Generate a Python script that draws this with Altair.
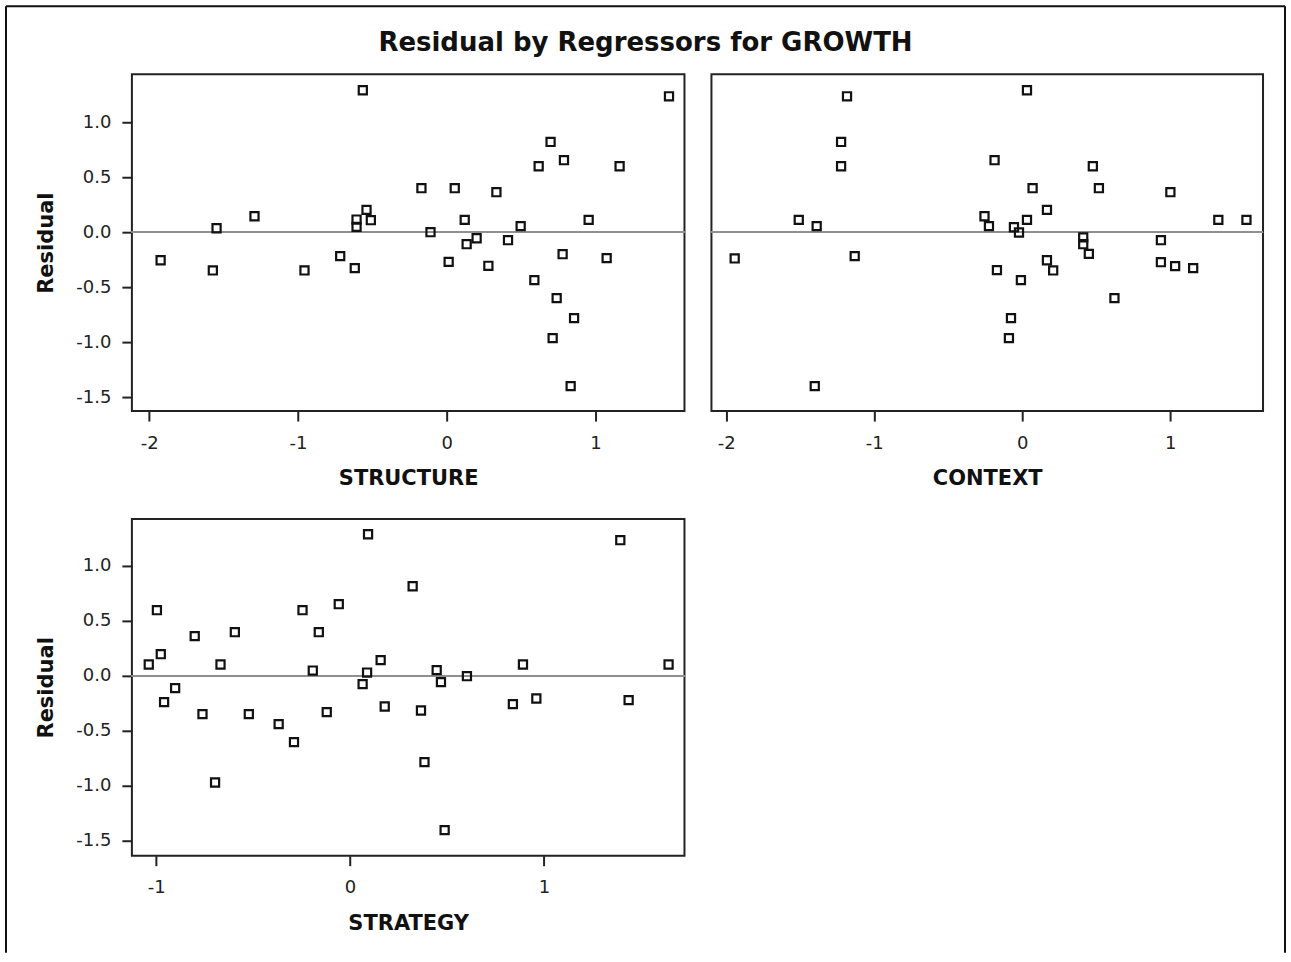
import altair as alt
import pandas as pd

# ---------------- data ----------------
structure_x = [-1.923, -1.572, -1.547, -1.292, -0.956, -0.716, -0.618, -0.606, -0.606, -0.564,
               -0.539, -0.510, -0.170, -0.109, 0.013, 0.054, 0.121, 0.134, 0.201, 0.280,
               0.334, 0.412, 0.497, 0.589, 0.618, 0.698, 0.712, 0.739, 0.779, 0.788,
               0.833, 0.856, 0.954, 1.075, 1.162, 1.494]
structure_res = [-0.255, -0.348, 0.036, 0.145, -0.348, -0.218, -0.327, 0.115, 0.048, 1.291,
                 0.203, 0.109, 0.400, 0.000, -0.270, 0.400, 0.112, -0.109, -0.055, -0.306,
                 0.364, -0.073, 0.055, -0.436, 0.600, 0.821, -0.964, -0.600, -0.200, 0.655,
                 -1.400, -0.782, 0.112, -0.236, 0.600, 1.236]

context_x = [-1.184, -1.224, -1.224, -1.510, -1.389, -1.943, -1.132, -1.402, 0.032, -0.187,
             0.477, 0.070, 0.518, 1.001, 0.167, -0.255, -0.225, 0.032, -0.056, -0.022,
             1.325, 1.515, 0.412, 0.412, 0.450, 0.937, 0.167, 0.209, -0.171, -0.009,
             0.937, 1.033, 1.155, 0.623, -0.076, -0.090]
context_res = [1.236, 0.821, 0.600, 0.112, 0.055, -0.239, -0.218, -1.400, 1.291, 0.655,
               0.600, 0.400, 0.400, 0.364, 0.203, 0.145, 0.055, 0.112, 0.045, -0.003,
               0.112, 0.112, -0.048, -0.109, -0.197, -0.073, -0.255, -0.348, -0.345, -0.436,
               -0.273, -0.309, -0.327, -0.600, -0.782, -0.964]

strategy_x = [0.093, 0.323, -0.996, -0.245, -0.058, -0.801, -0.594, -0.161, -0.976, -1.038,
              -0.668, -0.192, 0.158, 0.088, -0.902, -0.959, 0.065, -0.761, -0.522, -0.120,
              0.179, -0.368, -0.289, -0.696, 1.394, 0.447, 0.469, 0.603, 0.892, 1.643,
              0.366, 0.840, 0.961, 1.437, 0.384, 0.488]
strategy_res = [1.288, 0.815, 0.597, 0.597, 0.652, 0.361, 0.397, 0.397, 0.197, 0.103,
                0.103, 0.048, 0.143, 0.030, -0.112, -0.239, -0.075, -0.348, -0.348, -0.330,
                -0.279, -0.439, -0.603, -0.970, 1.234, 0.052, -0.057, -0.003, 0.103, 0.103,
                -0.315, -0.257, -0.206, -0.221, -0.785, -1.403]

y_ticks = [-1.5, -1.0, -0.5, 0.0, 0.5, 1.0]
x_ticks_wide = [-2, -1, 0, 1]
x_ticks_strategy = [-1, 0, 1]

FONT = "DejaVu Sans"
INK = "#111111"
LABEL_EXPR = "(datum.value < 0 ? '-' : '') + format(abs(datum.value), '{fmt}')"


def panel(xs, res, xtitle, xdomain, ydomain, xticks, width, show_y, extra=None):
    df = pd.DataFrame({"x": xs, "res": res, "zero": [0.0] * len(xs)})
    base = alt.Chart(df)
    xaxis = alt.Axis(values=xticks, title=xtitle, grid=False, domain=False,
                     labelExpr=LABEL_EXPR.format(fmt=".0f"))
    yscale = alt.Scale(domain=ydomain, nice=False, zero=False)
    if show_y:
        yaxis = alt.Axis(values=y_ticks, title="Residual", grid=False, domain=False,
                         labelExpr=LABEL_EXPR.format(fmt=".1f"))
    else:
        yaxis = None
    xenc = alt.X("x:Q", scale=alt.Scale(domain=xdomain, nice=False, zero=False), axis=xaxis)

    zero = base.mark_rule(color="#8f8f8f", strokeWidth=1.5).encode(
        y=alt.Y("zero:Q", scale=yscale, axis=yaxis))
    pts = base.mark_point(shape="square", filled=False, color=INK, size=66,
                          strokeWidth=2.2, opacity=1).encode(
        x=xenc, y=alt.Y("res:Q", scale=yscale, axis=yaxis))
    layers = [zero, pts]
    if extra:
        layers += extra
    return alt.layer(*layers).properties(width=width, height=337)


one = pd.DataFrame({"a": [0]})
# outer frame of the figure (decoration, placed relative to the bottom-left panel)
frame_left = alt.Chart(one).mark_rule(color=INK, strokeWidth=2).encode(
    x=alt.value(-126), y=alt.value(-513), y2=alt.value(434))
frame_top = alt.Chart(one).mark_rule(color=INK, strokeWidth=2).encode(
    y=alt.value(-513), x=alt.value(-126), x2=alt.value(1154))
frame_right = alt.Chart(one).mark_rule(color=INK, strokeWidth=2).encode(
    x=alt.value(1154), y=alt.value(-513), y2=alt.value(434))

p1 = panel(structure_x, structure_res, "STRUCTURE", [-2.116, 1.598], [-1.627, 1.436],
           x_ticks_wide, 553, True)
p2 = panel(context_x, context_res, "CONTEXT", [-2.100, 1.627], [-1.627, 1.436],
           x_ticks_wide, 552, False)
p3 = panel(strategy_x, strategy_res, "STRATEGY", [-1.125, 1.725], [-1.636, 1.427],
           x_ticks_strategy, 553, True, extra=[frame_left, frame_top, frame_right])

chart = alt.concat(
    p1, p2, p3, columns=2, spacing={"row": 108, "column": 27}, bounds="flush"
).properties(
    title=alt.TitleParams(
        text="Residual by Regressors for GROWTH", anchor="middle",
        offset=-73, baseline="alphabetic", font=FONT, fontSize=26, fontWeight="bold",
        color=INK),
    padding={"left": 4, "top": 4, "right": 4, "bottom": 2},
    background="white",
).configure_view(
    stroke="#222222", strokeWidth=2
).configure_axis(
    labelFont=FONT, labelFontSize=18, labelColor="#222222",
    titleFont=FONT, titleFontSize=21, titleFontWeight="bold", titleColor=INK,
    tickColor="#222222", tickWidth=2, tickSize=10,
    labelPadding=11,
).configure_axisX(
    labelPadding=13, titlePadding=16,
).configure_axisY(
    titlePadding=19,
)

chart.save("out.html", embed_options={"renderer": "svg", "actions": False})
